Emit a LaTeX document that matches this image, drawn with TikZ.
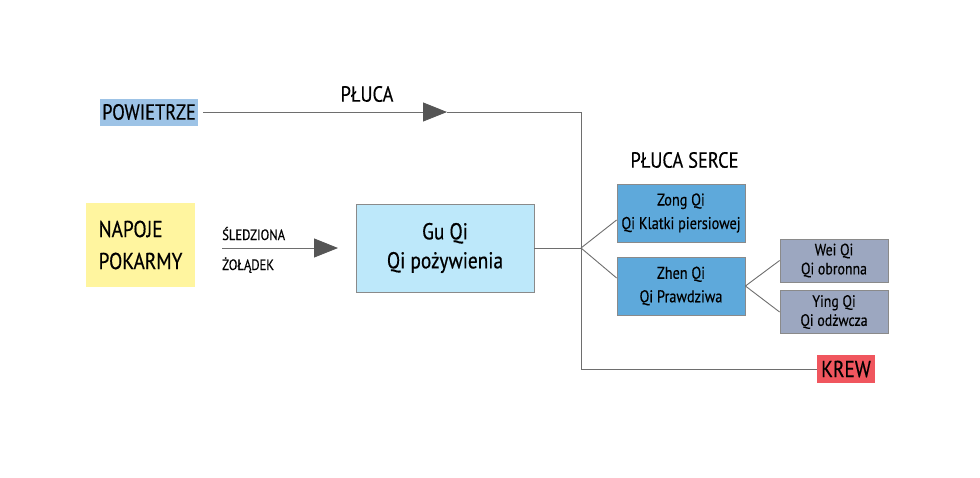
\documentclass[tikz,border=0pt]{standalone}
\usepackage{fontspec}
\setmainfont{PT Sans}[FakeStretch=0.84,FakeBold=0.4]
\usepackage{tikz}
\usetikzlibrary{arrows.meta}
\definecolor{powblue}{HTML}{9DC3E6}
\definecolor{foodyellow}{HTML}{FFF59F}
\definecolor{guqiblue}{HTML}{BDE8FA}
\definecolor{qiblue}{HTML}{5EA9DB}
\definecolor{qigray}{HTML}{9CA7C0}
\definecolor{krewred}{HTML}{F0565E}
\definecolor{linegray}{HTML}{6E6E6E}
\definecolor{tipgray}{HTML}{555555}
\definecolor{boxline}{HTML}{8A8A8A}

\begin{document}
\begin{tikzpicture}[x=1pt,y=-1pt,
  box/.style={draw=boxline,line width=0.8pt,align=center,inner sep=0pt},
  flat/.style={inner sep=0pt,align=center},
  line/.style={draw=linegray,line width=0.9pt},
  tri/.style={-{Triangle[length=24pt,width=19pt,color=tipgray]}}]
\useasboundingbox (0,0) rectangle (980,477);
% left side
\node [flat,fill=powblue,minimum width=98pt,minimum height=27pt,font=\fontsize{22}{24}\selectfont] (pow) at (149,112) {POWIETRZE};
\node [flat,font=\fontsize{22}{24}\selectfont] (pluca) at (367,94) {PŁUCA};
\node [flat,fill=foodyellow,minimum width=109pt,minimum height=84pt,align=left,font=\fontsize{23}{32}\selectfont] (food) at (140.5,245) {NAPOJE\\POKARMY};
\node [flat,anchor=base west,font=\fontsize{15}{17}\selectfont] (sled) at (222,240) {ŚLEDZIONA};
\node [flat,anchor=base west,font=\fontsize{15}{17}\selectfont] (zol) at (222,270) {ŻOŁĄDEK};
\node [box,fill=guqiblue,minimum width=178pt,minimum height=88pt,font=\fontsize{23}{29}\selectfont] (guqi) at (445,248) {Gu Qi\\Qi pożywienia};
% right side
\node [flat,font=\fontsize{22}{24}\selectfont] (serce) at (684.5,160) {PŁUCA SERCE};
\node [box,fill=qiblue,minimum width=128pt,minimum height=58pt,font=\fontsize{17}{23.5}\selectfont] (zong) at (681,213) {Zong Qi\\Qi Klatki piersiowej};
\node [box,fill=qiblue,minimum width=128pt,minimum height=58pt,font=\fontsize{17}{23.5}\selectfont] (zhen) at (681,286) {Zhen Qi\\Qi Prawdziwa};
\node [box,fill=qigray,minimum width=108pt,minimum height=43pt,font=\fontsize{16.5}{19}\selectfont] (wei) at (834,260.5) {Wei Qi\\Qi obronna};
\node [box,fill=qigray,minimum width=108pt,minimum height=43pt,font=\fontsize{16.5}{19}\selectfont] (ying) at (834,312) {Ying Qi\\Qi odżwcza};
\node [flat,fill=krewred,minimum width=58pt,minimum height=28pt,font=\fontsize{23}{25}\selectfont] (krew) at (846,369) {KREW};
% connectors
\coordinate (tip1) at (447,112);
\coordinate (top) at (581,112);
\coordinate (fork) at (581,248);
\coordinate (bot) at (top |- krew);
\coordinate (start2) at (222,248);
\coordinate (tip2) at (338,248);
\draw [line,tri] (pow.east) ++(5,0) -- (tip1);
\draw [line] (tip1) -- (top) -- (bot) -- (krew.west);
\draw [line,tri] (start2) -- (tip2);
\draw [line] (guqi.east) -- (fork);
\draw [line] (fork) -- ([yshift=-7pt]zong.west);
\draw [line] (fork) -- ([yshift=8pt]zhen.west);
\draw [line] (zhen.east) -- (wei.west);
\draw [line] (zhen.east) -- (ying.west);
\end{tikzpicture}
\end{document}
